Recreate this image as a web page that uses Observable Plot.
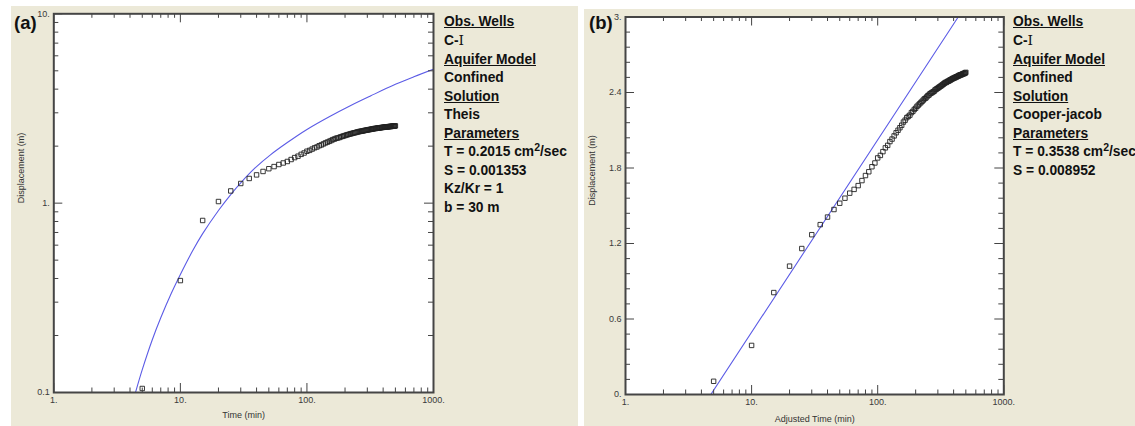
<!DOCTYPE html>
<html><head><meta charset="utf-8">
<script src="https://cdn.jsdelivr.net/npm/d3@7"></script>
<script src="https://cdn.jsdelivr.net/npm/@observablehq/plot@0.6"></script>
<style>
body{margin:0;background:#fff;width:1135px;height:426px;position:relative;overflow:hidden;font-family:Arial,"Liberation Sans",sans-serif;}
.bg{position:absolute;background:#ECE9D8;}
.panel{position:absolute;top:0;}
.info{position:absolute;font-weight:bold;font-size:13.8px;line-height:18.5px;color:#111;white-space:nowrap;}
.info sup{font-size:10.5px;line-height:0;vertical-align:5px;}
.tag{position:absolute;font-weight:bold;font-size:18.5px;line-height:19px;color:#111;}
.serif{font-family:"DejaVu Serif","Liberation Serif",serif;font-weight:normal;}
</style></head><body>
<div class="bg" style="left:11px;top:6px;width:567px;height:420px"></div>
<div class="bg" style="left:584px;top:9px;width:551px;height:417px"></div>
<div id="pa" class="panel" style="left:0"></div>
<div id="pb" class="panel" style="left:584px"></div>
<div class="tag" style="left:14px;top:13px">(a)</div>
<div class="tag" style="left:589px;top:13px">(b)</div>
<div id="infoA" class="info" style="left:444px;top:12.6px"></div>
<div id="infoB" class="info" style="left:1013px;top:12.6px"></div>
<script>
// ---- observed drawdown (same well, both panels) ----
const timeMin = [5,10,15,20,25,30,35,40,45,50,55,60,65,70,75,80,85,90,95,100,
  105,110,115,120,125,130,135,140,145,150,155,160,165,170,175,180,185,190,195,200,
  205,210,215,220,225,230,235,240,245,250,255,260,265,270,275,280,285,290,295,300,
  305,310,315,320,325,330,335,340,345,350,355,360,365,370,375,380,385,390,395,400,
  405,410,415,420,425,430,435,440,445,450,455,460,465,470,475,480,485,490,495,500];
const displacement = [0.105,0.39,0.81,1.02,1.16,1.27,1.35,1.41,1.47,1.52,1.56,1.60,1.63,1.66,1.70,1.74,1.77,1.81,1.84,1.88,
  1.90,1.93,1.96,1.98,2.01,2.03,2.055,2.08,2.10,2.12,2.14,2.165,2.18,2.20,2.21,2.22,2.24,2.25,2.265,2.275,
  2.29,2.30,2.31,2.32,2.33,2.34,2.35,2.355,2.365,2.375,2.38,2.39,2.395,2.40,2.405,2.41,2.42,2.425,2.43,2.435,
  2.44,2.445,2.45,2.455,2.46,2.465,2.47,2.475,2.48,2.48,2.485,2.49,2.49,2.495,2.50,2.50,2.505,2.51,2.51,2.515,
  2.515,2.52,2.52,2.525,2.525,2.53,2.53,2.535,2.535,2.54,2.54,2.54,2.545,2.545,2.55,2.55,2.55,2.555,2.555,2.56];

// ---- Theis type curve (panel a) ----
const theisTime = [4.42,5,6,7,8.5,10,12.5,15,20,25,30,40,51.5,70,100,150,220,320,500,700,1000];
const theisDisp = [0.100,0.132,0.190,0.248,0.335,0.42,0.56,0.69,0.915,1.11,1.28,1.56,1.80,2.09,2.45,2.86,3.27,3.69,4.24,4.65,5.10];

// ---- Cooper-Jacob straight line (panel b) ----
const cjTime = [4.75,435];
const cjDisp = [0,3.0];

// ---- ticks ----
const xMajor = [1,10,100,1000];
const xMajorLabels = ["1.","10.","100.","1000."];
const xMinor = [2,3,4,5,6,7,8,9,20,30,40,50,60,70,80,90,200,300,400,500,600,700,800,900];
const yMajorA = [0.1,1,10];
const yMajorALabels = ["0.1","1.","10."];
const yMinorA = [0.2,0.3,0.4,0.5,0.6,0.7,0.8,0.9,2,3,4,5,6,7,8,9];
const yMajorB = [0,0.6,1.2,1.8,2.4,3];
const yMajorBLabels = ["0.","0.6","1.2","1.8","2.4","3."];
const yMinorB = [0.12,0.24,0.36,0.48,0.72,0.84,0.96,1.08,1.32,1.44,1.56,1.68,1.92,2.04,2.16,2.28,2.52,2.64,2.76,2.88];

// ---- side texts ----
const infoA = [["Obs. Wells",true],["C-I",false],["Aquifer Model",true],["Confined",false],["Solution",true],["Theis",false],["Parameters",true],["T = 0.2015 cm2/sec",false],["S = 0.001353",false],["Kz/Kr = 1",false],["b = 30 m",false]];
const infoB = [["Obs. Wells",true],["C-I",false],["Aquifer Model",true],["Confined",false],["Solution",true],["Cooper-jacob",false],["Parameters",true],["T = 0.3538 cm2/sec",false],["S = 0.008952",false]];

const obs = timeMin.map((t,i)=>({t, s: displacement[i]}));
const theis = theisTime.map((t,i)=>({t, s: theisDisp[i]}));
const cj = cjTime.map((t,i)=>({t, s: cjDisp[i]}));

function build({width, ml, mr, mt, mb, yScale, yMajor, yLabels, yMinor, xLabel, xLabelDy, curve, curveType}) {
  const height = 426;
  const iw = width - ml - mr, ih = height - mt - mb;
  const tc = "#444";
  const lc = "#3a3a3a";
  return Plot.plot({
    width, height, marginLeft: ml, marginRight: mr, marginTop: mt, marginBottom: mb,
    style: {background: "transparent", fontFamily: "Arial, 'Liberation Sans', sans-serif", fontSize: "9px", color: lc},
    x: {type: "log", domain: [1, 1000], axis: null},
    y: {...yScale, axis: null},
    marks: [
      Plot.frame({fill: "white", stroke: null}),
      Plot.line(curve, {x: "t", y: "s", stroke: "#5c5ce6", strokeWidth: 1.1, curve: curveType, clip: true}),
      Plot.dot(obs, {x: "t", y: "s", symbol: "square", r: 2.5, stroke: "#222", strokeWidth: 0.9, fill: "none"}),
      Plot.ruleX(xMajor, {insetTop: ih - 9, stroke: tc}),
      Plot.ruleX(xMinor, {insetTop: ih - 4.5, stroke: tc}),
      Plot.ruleX(xMajor, {insetBottom: ih - 9, stroke: tc}),
      Plot.ruleX(xMinor, {insetBottom: ih - 4.5, stroke: tc}),
      Plot.ruleY(yMajor, {insetRight: iw - 9, stroke: tc}),
      Plot.ruleY(yMinor, {insetRight: iw - 5, stroke: tc}),
      Plot.ruleY(yMajor, {insetLeft: iw - 9, stroke: tc}),
      Plot.ruleY(yMinor, {insetLeft: iw - 5, stroke: tc}),
      Plot.text(xMajor, {x: d => d, text: (d, i) => xMajorLabels[i], frameAnchor: "bottom", dy: 10, fontSize: 9, fill: lc}),
      Plot.text(yMajor, {y: d => d, text: (d, i) => yLabels[i], frameAnchor: "left", dx: -4, textAnchor: "end", fontSize: 9, fill: lc}),
      Plot.text([xLabel], {frameAnchor: "bottom", dy: xLabelDy, fontSize: 9, fill: "#333"}),
      Plot.text(["Displacement (m)"], {frameAnchor: "left", rotate: -90, dx: -33, fontSize: 9, fill: "#333"}),
      Plot.frame({stroke: "#454545", strokeWidth: 2})
    ]
  });
}

document.getElementById("pa").append(build({
  width: 578, ml: 53.3, mr: 145, mt: 13.3, mb: 34,
  yScale: {type: "log", domain: [0.1, 10]},
  yMajor: yMajorA, yLabels: yMajorALabels, yMinor: yMinorA,
  xLabel: "Time (min)", xLabelDy: 25, curve: theis, curveType: "catmull-rom"
}));
document.getElementById("pb").append(build({
  width: 551, ml: 41, mr: 131.7, mt: 16.5, mb: 32,
  yScale: {type: "linear", domain: [0, 3]},
  yMajor: yMajorB, yLabels: yMajorBLabels, yMinor: yMinorB,
  xLabel: "Adjusted Time (min)", xLabelDy: 27, curve: cj, curveType: "linear"
}));

function fillInfo(id, lines) {
  const el = document.getElementById(id);
  for (const [txt, under] of lines) {
    const d = document.createElement("div");
    if (txt === "C-I") {
      d.innerHTML = 'C-<span class="serif">I</span>';
    } else if (txt.includes("cm2")) {
      const [a, b] = txt.split("cm2");
      d.innerHTML = a + 'cm<sup>2</sup>' + b;
    } else {
      d.textContent = txt;
    }
    if (under) d.style.textDecoration = "underline";
    el.append(d);
  }
}
fillInfo("infoA", infoA);
fillInfo("infoB", infoB);
</script>
</body></html>
